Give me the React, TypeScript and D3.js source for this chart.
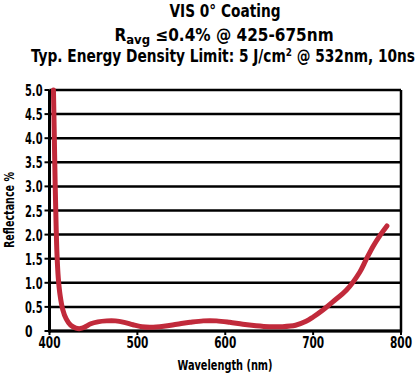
import React, { useLayoutEffect, useRef, useState } from "react";
import * as d3 from "d3";

const wavelengths = [404.5, 405.5, 406.5, 407.5, 408.5, 410, 412, 415, 419, 424, 430, 435, 440, 447, 455, 465, 475, 485, 495, 505, 515, 530, 545, 560, 575, 590, 605, 620, 635, 650, 665, 680, 692, 700, 710, 722, 738, 753, 760, 768, 776, 784];
const reflectance = [5.0, 4.0, 3.0, 2.2, 1.6, 1.1, 0.75, 0.45, 0.25, 0.12, 0.06, 0.05, 0.08, 0.15, 0.19, 0.21, 0.21, 0.18, 0.13, 0.09, 0.08, 0.1, 0.14, 0.18, 0.21, 0.21, 0.18, 0.14, 0.11, 0.09, 0.09, 0.12, 0.2, 0.29, 0.42, 0.6, 0.85, 1.22, 1.47, 1.75, 1.98, 2.18];
const yTicks = [0, 0.5, 1.0, 1.5, 2.0, 2.5, 3.0, 3.5, 4.0, 4.5, 5.0];
const xTicks = [400, 500, 600, 700, 800];

const FONT = "'DejaVu Sans Condensed', 'Liberation Sans Narrow', sans-serif";

export default function App() {
  const x = d3.scaleLinear().domain([400, 800]).range([49.5, 401]);
  const y = d3.scaleLinear().domain([0, 5]).range([331, 90]);
  const data = wavelengths.map((w, i) => [w, reflectance[i]] as [number, number]);
  const line = d3.line<[number, number]>().x(d => x(d[0])).y(d => y(d[1])).curve(d3.curveCatmullRom.alpha(0.5));
  const t3 = useRef<SVGTextElement>(null);
  const [sx, setSx] = useState(0.89);
  useLayoutEffect(() => {
    if (t3.current) {
      const w = t3.current.getBBox().width;
      if (w > 0) setSx(384 / w);
    }
  }, []);
  return (
    <svg width={420} height={379} style={{ position: "absolute", left: 0, top: 0 }}>
      <rect width={420} height={379} fill="#fff" />
      <g fontFamily={FONT} fontWeight="bold" fill="#000" textAnchor="middle">
        <text x={225} y={17} fontSize={17} textLength={111} lengthAdjust="spacingAndGlyphs">VIS 0° Coating</text>
        <text x={224} y={41} fontSize={17}>
          <tspan>R</tspan><tspan fontSize={13} dy={3}>avg</tspan><tspan dy={-3}> ≤0.4% @ 425-675nm</tspan>
        </text>
        <g transform={`translate(223,62) scale(${sx},1)`}>
          <text ref={t3} x={0} y={0} fontSize={17}>
            <tspan>Typ. Energy Density Limit: 5 J/cm</tspan><tspan fontSize={11} dy={-6}>2</tspan><tspan dy={6}> @ 532nm, 10ns</tspan>
          </text>
        </g>
      </g>
      {yTicks.map(t => (
        <line key={"g" + t} x1={x(400)} x2={x(800)} y1={y(t)} y2={y(t)} stroke="#000" strokeWidth={2.5} />
      ))}
      <line x1={x(400)} x2={x(400)} y1={y(5)} y2={y(0) + 1.5} stroke="#000" strokeWidth={3} />
      <line x1={x(800)} x2={x(800)} y1={y(5)} y2={y(0) + 1.5} stroke="#000" strokeWidth={2.5} />
      <line x1={x(400)} x2={x(800)} y1={y(0)} y2={y(0)} stroke="#000" strokeWidth={3} />
      {yTicks.map(t => (
        <line key={"t" + t} x1={x(400) - 5} x2={x(400)} y1={y(t)} y2={y(t)} stroke="#000" strokeWidth={2} />
      ))}
      {xTicks.map(t => (
        <line key={"xt" + t} x1={x(t)} x2={x(t)} y1={y(0)} y2={y(0) + 4} stroke="#000" strokeWidth={2} />
      ))}
      <path d={line(data) ?? ""} fill="none" stroke="#c12a3b" strokeWidth={5} strokeLinecap="round" strokeLinejoin="round" />
      <g fontFamily={FONT} fontSize={16} fontWeight="bold" fill="#000">
        {yTicks.map(t => (
          <text key={"yl" + t} x={25} y={y(t) + 6} textAnchor="start" textLength={t === 0 ? 7.5 : 17.5} lengthAdjust="spacingAndGlyphs">{t === 0 ? "0" : t.toFixed(1)}</text>
        ))}
        {xTicks.map(t => (
          <text key={"xl" + t} x={x(t)} y={348} textAnchor="middle" textLength={22} lengthAdjust="spacingAndGlyphs">{t}</text>
        ))}
        <text x={225} y={370} fontSize={14} textAnchor="middle" textLength={95} lengthAdjust="spacingAndGlyphs">Wavelength (nm)</text>
        <text transform="translate(14,210) rotate(-90)" fontSize={14} textAnchor="middle" textLength={76} lengthAdjust="spacingAndGlyphs">Reflectance %</text>
      </g>
    </svg>
  );
}
